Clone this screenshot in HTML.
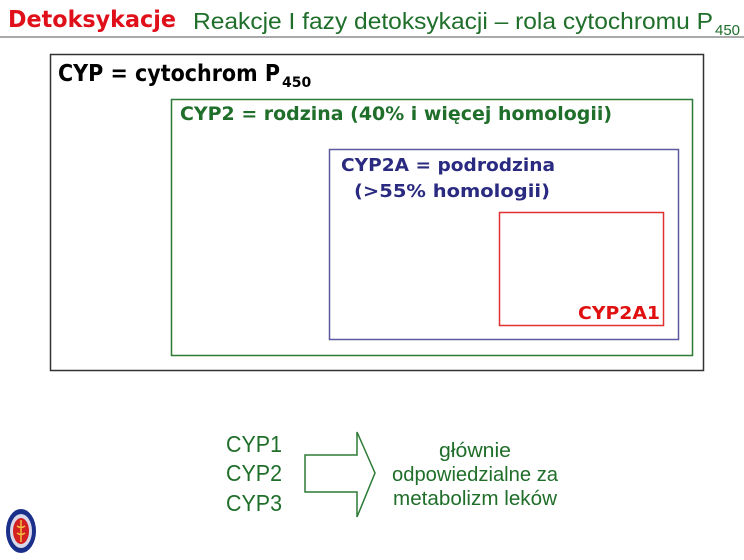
<!DOCTYPE html>
<html><head><meta charset="utf-8"><style>html,body{margin:0;padding:0;background:#fff;}svg{display:block}</style></head>
<body>
<svg width="744" height="560" viewBox="0 0 744 560" xmlns="http://www.w3.org/2000/svg">
<rect width="744" height="560" fill="#fff"/>
<text x="8" y="27" font-family="DejaVu Sans, Liberation Sans, sans-serif" font-weight="bold" font-size="23" fill="#e0101a" textLength="168" lengthAdjust="spacingAndGlyphs">Detoksykacje</text>
<text x="193" y="29" font-family="Liberation Sans, sans-serif" font-size="23" fill="#1f6e2a" textLength="520" lengthAdjust="spacingAndGlyphs">Reakcje I fazy detoksykacji – rola cytochromu P</text>
<text x="715" y="35" font-family="Liberation Sans, sans-serif" font-size="15" fill="#1f6e2a">450</text>
<line x1="0" y1="37" x2="744" y2="37" stroke="#777" stroke-width="1.2"/>
<rect x="50.5" y="54.5" width="653" height="316" fill="none" stroke="#333" stroke-width="1.5"/>
<text x="58" y="81" font-family="DejaVu Sans, Liberation Sans, sans-serif" font-weight="bold" font-size="23" fill="#000" textLength="222" lengthAdjust="spacingAndGlyphs">CYP = cytochrom P</text>
<text x="282" y="87" font-family="DejaVu Sans, Liberation Sans, sans-serif" font-weight="bold" font-size="14" fill="#000">450</text>
<rect x="171.5" y="99.5" width="521" height="256" fill="none" stroke="#2d7a36" stroke-width="1.5"/>
<text x="180" y="120" font-family="DejaVu Sans, Liberation Sans, sans-serif" font-weight="bold" font-size="19" fill="#1f6e2a" textLength="432" lengthAdjust="spacingAndGlyphs">CYP2 = rodzina (40% i więcej homologii)</text>
<rect x="329.5" y="149.5" width="349" height="190" fill="none" stroke="#5a5aa0" stroke-width="1.5"/>
<text x="341" y="171" font-family="DejaVu Sans, Liberation Sans, sans-serif" font-weight="bold" font-size="18" fill="#2a2a80" textLength="214" lengthAdjust="spacingAndGlyphs">CYP2A = podrodzina</text>
<text x="354" y="197" font-family="DejaVu Sans, Liberation Sans, sans-serif" font-weight="bold" font-size="18" fill="#2a2a80" textLength="196" lengthAdjust="spacingAndGlyphs">(&gt;55% homologii)</text>
<rect x="499.5" y="212.5" width="164" height="113" fill="none" stroke="#e03030" stroke-width="1.5"/>
<text x="578" y="319" font-family="DejaVu Sans, Liberation Sans, sans-serif" font-weight="bold" font-size="18" fill="#e01010" textLength="82" lengthAdjust="spacingAndGlyphs">CYP2A1</text>
<g font-family="Liberation Sans, sans-serif" font-size="23" fill="#1f6e2a">
<text x="226" y="452" textLength="56" lengthAdjust="spacingAndGlyphs">CYP1</text>
<text x="226" y="481" textLength="56" lengthAdjust="spacingAndGlyphs">CYP2</text>
<text x="226" y="511" textLength="56" lengthAdjust="spacingAndGlyphs">CYP3</text>
</g>
<polygon points="305,455 357,455 357,432 375,473 357,517 357,492 305,492" fill="none" stroke="#2d7a36" stroke-width="1.5"/>
<g font-family="Liberation Sans, sans-serif" font-size="20" fill="#1f6e2a" text-anchor="middle">
<text x="475" y="457" textLength="72" lengthAdjust="spacingAndGlyphs">głównie</text>
<text x="475" y="481" textLength="166" lengthAdjust="spacingAndGlyphs">odpowiedzialne za</text>
<text x="475" y="505" textLength="164" lengthAdjust="spacingAndGlyphs">metabolizm leków</text>
</g>
<ellipse cx="21" cy="531" rx="15" ry="22" fill="#1a2f8a"/>
<ellipse cx="21" cy="531" rx="11" ry="17" fill="#d8d8e8"/>
<ellipse cx="21" cy="531" rx="8" ry="13" fill="#d42020"/>
<path d="M21 520 L21 542 M17 526 q4 3 8 0 M17 533 q4 3 8 0" stroke="#f0c040" stroke-width="1.5" fill="none"/>
</svg>
</body></html>
